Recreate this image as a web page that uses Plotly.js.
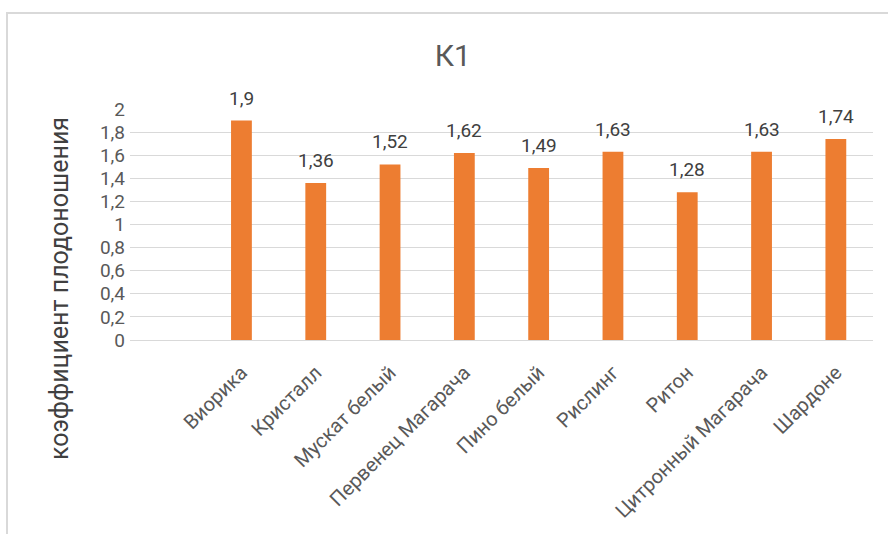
<!DOCTYPE html>
<html>
<head>
<meta charset="utf-8">
<script src="https://cdn.plot.ly/plotly-3.0.1.min.js"></script>
<style>
  html, body { margin: 0; padding: 0; background: #ffffff; }
  #wrap { position: relative; width: 888px; height: 534px; overflow: hidden; }
  #chart { width: 888px; height: 534px; }
  #frame {
    position: absolute; left: 6px; top: 12px; width: 900px; height: 540px;
    border-left: 2px solid #d9d9d9; border-top: 2px solid #d9d9d9;
    pointer-events: none;
  }
</style>
</head>
<body>
<div id="wrap">
  <div id="chart"></div>
  <div id="frame"></div>
</div>
<script>
// Grape varieties and their fruiting coefficient K1
const varieties = ["Виорика", "Кристалл", "Мускат белый", "Первенец Магарача", "Пино белый",
                   "Рислинг", "Ритон", "Цитронный Магарача", "Шардоне"];
const k1 = [1.9, 1.36, 1.52, 1.62, 1.49, 1.63, 1.28, 1.63, 1.74];
const yTicks = [0, 0.2, 0.4, 0.6, 0.8, 1, 1.2, 1.4, 1.6, 1.8, 2];

const FONT = "Roboto, 'DejaVu Sans', sans-serif";

const trace = {
  type: "bar",
  x: varieties,
  y: k1,
  marker: { color: "#ed7d31" },
  hoverinfo: "skip"
};

// Value labels above each bar, with a comma as decimal mark
const valueLabels = varieties.map((name, i) => ({
  x: name,
  y: k1[i],
  xref: "x", yref: "y",
  text: String(k1[i]).replace(".", ","),
  showarrow: false,
  xanchor: "center",
  yanchor: "bottom",
  yshift: 9,
  font: { family: FONT, size: 19, color: "#404040" }
}));

const layout = {
  width: 888,
  height: 534,
  separators: ", ",
  paper_bgcolor: "#ffffff",
  plot_bgcolor: "#ffffff",
  margin: { l: 130, r: 15, t: 109, b: 194 },
  bargap: 0.72,
  showlegend: false,
  font: { family: FONT, color: "#595959" },
  title: {
    text: "К1",
    font: { family: FONT, size: 30, color: "#595959" },
    x: 0.51, xref: "container", xanchor: "center",
    y: 0.897, yref: "container", yanchor: "middle"
  },
  xaxis: {
    type: "category",
    range: [-1.5, 8.5],
    tickangle: -45,
    ticks: "",
    ticklabelstandoff: 16,
    tickfont: { family: FONT, size: 20, color: "#595959" },
    showgrid: false,
    showline: false,
    zeroline: false,
    fixedrange: true
  },
  yaxis: {
    range: [0, 2],
    tickvals: yTicks,
    ticks: "",
    ticklabelstandoff: 4,
    tickfont: { family: FONT, size: 19, color: "#595959" },
    showgrid: true,
    gridcolor: "#d9d9d9",
    gridwidth: 1,
    zeroline: true,
    zerolinecolor: "#d9d9d9",
    zerolinewidth: 1,
    showline: false,
    fixedrange: true
  },
  annotations: valueLabels.concat([{
    text: "коэффициент плодоношения",
    textangle: -90,
    xref: "paper", yref: "paper",
    x: -0.094, y: 0.221,
    xanchor: "center", yanchor: "middle",
    showarrow: false,
    font: { family: FONT, size: 25, color: "#404040" }
  }])
};

Plotly.newPlot("chart", [trace], layout, { displayModeBar: false, staticPlot: true });
</script>
</body>
</html>
